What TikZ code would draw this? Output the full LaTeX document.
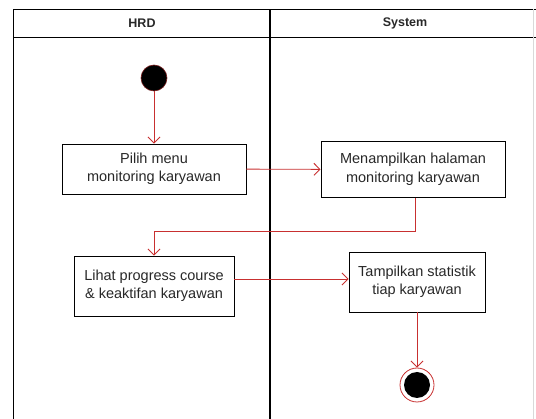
\documentclass[tikz,border=0pt]{standalone}
\usepackage{fontspec}
\setmainfont{Liberation Sans}
\usetikzlibrary{arrows.meta}
\definecolor{flowred}{RGB}{200,48,48}
\definecolor{inktext}{RGB}{40,40,40}
\tikzset{
  lane/.style={draw=black, line width=1.2pt},
  action/.style={draw=black, line width=0.9pt, fill=white, align=center,
    text=inktext, font=\fontsize{14.5}{18.5}\selectfont, inner sep=0pt},
  flow/.style={draw=flowred, line width=0.9pt,
    -{Straight Barb[length=6pt, width=12pt, line width=0.9pt]}},
  startdot/.style={circle, fill=black, draw=flowred!60!black, line width=0.6pt,
    minimum size=26pt, inner sep=0pt},
  enddot/.style={circle, draw=flowred, line width=0.8pt, fill=white,
    minimum size=34pt, inner sep=0pt},
  enddotcore/.style={circle, fill=black, minimum size=26pt, inner sep=0pt},
  title/.style={text=inktext, font=\bfseries\fontsize{12.5}{15}\selectfont}
}
\begin{document}
\begin{tikzpicture}[x=1pt, y=-1pt]
  \useasboundingbox (0,0) rectangle (536,419);
  % swimlane frame
  \draw[lane] (13.5,9.5) -- (536,9.5);
  \draw[lane] (13.5,37.5) -- (536,37.5);
  \draw[lane] (13.5,9.5) -- (13.5,419);
  \draw[lane] (270,9.5) -- (270,419);
  \draw[black!15, line width=0.8pt] (533,9.5) -- (533,419);
  \node[title] (hrd) at (142,23.5) {HRD};
  \node[title] (sys) at (405,23.5) {System};

  % activities
  \node[startdot] (start) at (154,78) {};
  \node[action, minimum width=184pt, minimum height=50pt] (pilih) at (154,169) {Pilih menu\\monitoring karyawan};
  \node[action, minimum width=184pt, minimum height=56pt] (tampil) at (413,169.5) {Menampilkan halaman\\monitoring karyawan};
  \node[action, minimum width=160pt, minimum height=60pt] (lihat) at (154,286) {Lihat progress course\\\& keaktifan karyawan};
  \node[action, minimum width=136pt, minimum height=60pt] (stat) at (417,282) {Tampilkan statistik\\tiap karyawan};
  \node[enddot] (finish) at (417,385) {};
  \node[enddotcore] (finishcore) at (finish.center) {};

  % control flow
  \draw[flow] (start) -- (pilih);
  \draw[flow] (pilih) -- (tampil);
  \draw[flow] (tampil.south -| 415,0) |- (154,231.5) -- (lihat.north);
  \draw[flow] (lihat.east |- 0,279) -- (stat.west |- 0,279);
  \draw[flow] (stat) -- (finish);
\end{tikzpicture}
\end{document}
